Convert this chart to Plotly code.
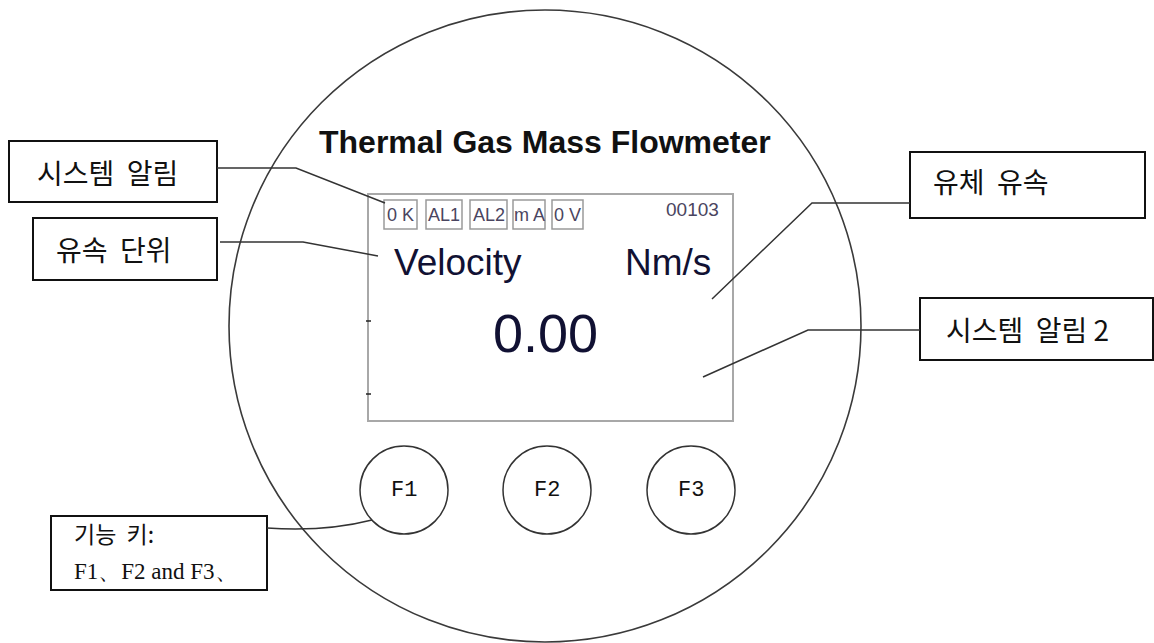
import plotly.graph_objects as go

W, H = 1154, 643

# ---- content (text) ----
title_text = "Thermal Gas Mass Flowmeter"
status_labels = ["0 K", "AL1", "AL2", "m A", "0 V"]
counter_text = "00103"
quantity_text = "Velocity"
unit_text = "Nm/s"
value_text = "0.00"
button_labels = ["F1", "F2", "F3"]
callout_texts = ["시스템  알림", "유속  단위", "유체  유속", "시스템  알림 2"]
keys_text_lines = ["기능  키:", "F1、F2 and F3、"]

# ---- layout geometry ----
big_circle = (229, 10, 861, 642)
screen_rect = (368, 194, 733, 421)
status_x = [(384, 417), (426, 462), (470, 507), (513, 545), (552, 583)]
status_y = (200, 229)
button_cx = [404, 547, 691]
button_cy = 490
button_r = 44
callout_boxes = [(9, 141, 217, 202), (33, 218, 217, 280), (910, 152, 1145, 218), (920, 298, 1153, 360)]
callout_text_pos = [(107, 172), (114, 249), (991, 181), (1027, 329)]
leaders = [
    [(217, 168), (296, 168), (385, 203)],
    [(220, 242), (303, 242), (378, 256)],
    [(910, 203), (812, 203), (712, 299)],
    [(920, 330), (808, 330), (703, 377)],
]
keys_box = (51, 516, 267, 590)

fig = go.Figure()
shapes = []
ann = []

# big housing circle
shapes.append(dict(type="circle", xref="x", yref="y", x0=big_circle[0], y0=big_circle[1],
                   x1=big_circle[2], y1=big_circle[3], line=dict(color="#3a3a3a", width=1.6)))
# screen rect
shapes.append(dict(type="rect", xref="x", yref="y", x0=screen_rect[0], y0=screen_rect[1],
                   x1=screen_rect[2], y1=screen_rect[3], line=dict(color="#a8a8a8", width=2)))
# small tick marks at left of screen
for ty in [321, 394]:
    shapes.append(dict(type="line", xref="x", yref="y", x0=366, x1=371, y0=ty, y1=ty,
                       line=dict(color="#222", width=1.5)))

# status boxes
for (x0, x1), lab in zip(status_x, status_labels):
    shapes.append(dict(type="rect", xref="x", yref="y", x0=x0, y0=status_y[0], x1=x1, y1=status_y[1],
                       line=dict(color="#9a9a9a", width=1.5)))
    ann.append(dict(x=(x0 + x1) / 2, y=(status_y[0] + status_y[1]) / 2, text=lab, showarrow=False,
                    font=dict(family="Arial, Liberation Sans", size=18, color="#4a4560")))
ann.append(dict(x=721, y=209, text=counter_text, showarrow=False, xanchor="right",
                font=dict(family="Arial, Liberation Sans", size=19, color="#4a4560")))

# screen texts
ann.append(dict(x=392, y=262, text=quantity_text, showarrow=False, xanchor="left",
                font=dict(family="Arial, Liberation Sans", size=37, color="#111133")))
ann.append(dict(x=713, y=262, text=unit_text, showarrow=False, xanchor="right",
                font=dict(family="Arial, Liberation Sans", size=37, color="#111133")))
ann.append(dict(x=545, y=333, text=value_text, showarrow=False,
                font=dict(family="Arial, Liberation Sans", size=54, color="#111133")))

# title
ann.append(dict(x=545, y=142, text="<b>" + title_text + "</b>", showarrow=False,
                font=dict(family="Arial, Liberation Sans", size=32, color="#111")))

# buttons
for cx, lab in zip(button_cx, button_labels):
    shapes.append(dict(type="circle", xref="x", yref="y", x0=cx - button_r, y0=button_cy - button_r,
                       x1=cx + button_r, y1=button_cy + button_r, line=dict(color="#333", width=1.5)))
    ann.append(dict(x=cx, y=button_cy, text=lab, showarrow=False,
                    font=dict(family="Courier New, Liberation Mono", size=22, color="#111")))

# callout boxes
for (x0, y0, x1, y1), (tx, ty), t in zip(callout_boxes, callout_text_pos, callout_texts):
    shapes.append(dict(type="rect", xref="x", yref="y", x0=x0, y0=y0, x1=x1, y1=y1,
                       line=dict(color="#111", width=2), fillcolor="white"))
    ann.append(dict(x=tx, y=ty, text=t, showarrow=False,
                    font=dict(family="Noto Sans CJK KR", size=28, color="#111")))

# leaders
for pts in leaders:
    path = "M {} {} ".format(*pts[0]) + " ".join("L {} {}".format(*p) for p in pts[1:])
    shapes.append(dict(type="path", xref="x", yref="y", path=path, line=dict(color="#333", width=1.5)))

# keys box
shapes.append(dict(type="rect", xref="x", yref="y", x0=keys_box[0], y0=keys_box[1], x1=keys_box[2],
                   y1=keys_box[3], line=dict(color="#111", width=2), fillcolor="white"))
ann.append(dict(x=72, y=533, text=keys_text_lines[0], showarrow=False, xanchor="left",
                font=dict(family="Noto Sans CJK KR", size=23, color="#111")))
ann.append(dict(x=72, y=571, text=keys_text_lines[1], showarrow=False, xanchor="left",
                font=dict(family="Liberation Serif, Times New Roman", size=23, color="#111")))
shapes.append(dict(type="path", xref="x", yref="y", path="M 267 528 Q 325 532 372 520",
                   line=dict(color="#333", width=1.5)))

fig.add_trace(go.Scatter(x=[0, W], y=[0, H], mode="markers", marker=dict(opacity=0), hoverinfo="skip",
                         showlegend=False))

fig.update_layout(
    width=W, height=H, margin=dict(l=0, r=0, t=0, b=0),
    paper_bgcolor="white", plot_bgcolor="white",
    xaxis=dict(range=[0, W], visible=False, fixedrange=True),
    yaxis=dict(range=[H, 0], visible=False, fixedrange=True),
    shapes=shapes, annotations=ann, showlegend=False,
)

fig.write_html("out.html", config={"displayModeBar": False},
               post_script="document.body.style.margin='0';document.body.style.overflow='hidden';")
